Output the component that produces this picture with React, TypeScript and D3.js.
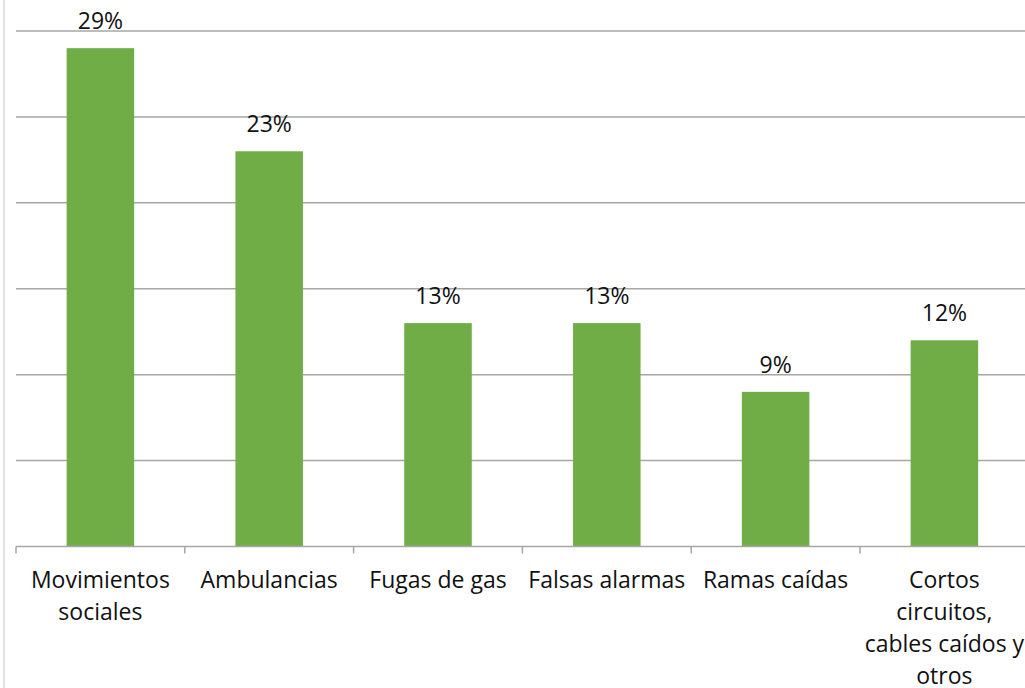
import React from "react";
import * as d3 from "d3";

const categories = [
  "Movimientos sociales",
  "Ambulancias",
  "Fugas de gas",
  "Falsas alarmas",
  "Ramas caídas",
  "Cortos circuitos, cables caídos y otros",
];
const labelLines = [
  ["Movimientos", "sociales"],
  ["Ambulancias"],
  ["Fugas de gas"],
  ["Falsas alarmas"],
  ["Ramas caídas"],
  ["Cortos", "circuitos,", "cables caídos y", "otros"],
];
const values = [29, 23, 13, 13, 9, 12];
const yTicks = [0, 5, 10, 15, 20, 25, 30];

const W = 1025;
const H = 688;
const left = 16;
const step = 168.8;
const baseY = 546.5;
const topY = 31;
const FONT = "'Open Sans', sans-serif";

export default function App() {
  const x = d3
    .scaleBand<string>()
    .domain(categories)
    .range([left, left + step * categories.length])
    .paddingInner(0.6)
    .paddingOuter(0.3);
  const y = d3.scaleLinear().domain([0, 30]).range([baseY, topY]);
  const s = x.step();

  return (
    <svg
      width={W}
      height={H}
      style={{ position: "absolute", left: 0, top: 0, background: "#fff" }}
    >
      <line x1={4} x2={4} y1={0} y2={H} stroke="#e2e5eb" strokeWidth={2} />
      {yTicks.slice(1).map((t) => (
        <line
          key={t}
          x1={left}
          x2={W}
          y1={y(t)}
          y2={y(t)}
          stroke="#a6a6a6"
          strokeWidth={1.5}
        />
      ))}
      {categories.map((c, i) => (
        <rect
          key={c}
          x={x(c)}
          y={y(values[i])}
          width={x.bandwidth()}
          height={y(0) - y(values[i])}
          fill="#70ad47"
        />
      ))}
      <line x1={left} x2={W} y1={baseY} y2={baseY} stroke="#a6a6a6" strokeWidth={1.5} />
      {d3.range(categories.length + 1).map((i) => (
        <line
          key={i}
          x1={left + i * s}
          x2={left + i * s}
          y1={baseY}
          y2={baseY + 7}
          stroke="#a6a6a6"
          strokeWidth={1.5}
        />
      ))}
      {categories.map((c, i) => (
        <text
          key={c}
          x={(x(c) as number) + x.bandwidth() / 2}
          y={y(values[i]) - 19}
          textAnchor="middle"
          fontFamily={FONT}
          fontSize={23}
          fill="#111"
        >
          {values[i]}%
        </text>
      ))}
      {categories.map((c, i) => (
        <text
          key={c}
          textAnchor="middle"
          fontFamily={FONT}
          fontSize={23}
          fill="#111"
        >
          {labelLines[i].map((ln, j) => (
            <tspan
              key={j}
              x={(x(c) as number) + x.bandwidth() / 2}
              y={588 + j * 32}
            >
              {ln}
            </tspan>
          ))}
        </text>
      ))}
    </svg>
  );
}
